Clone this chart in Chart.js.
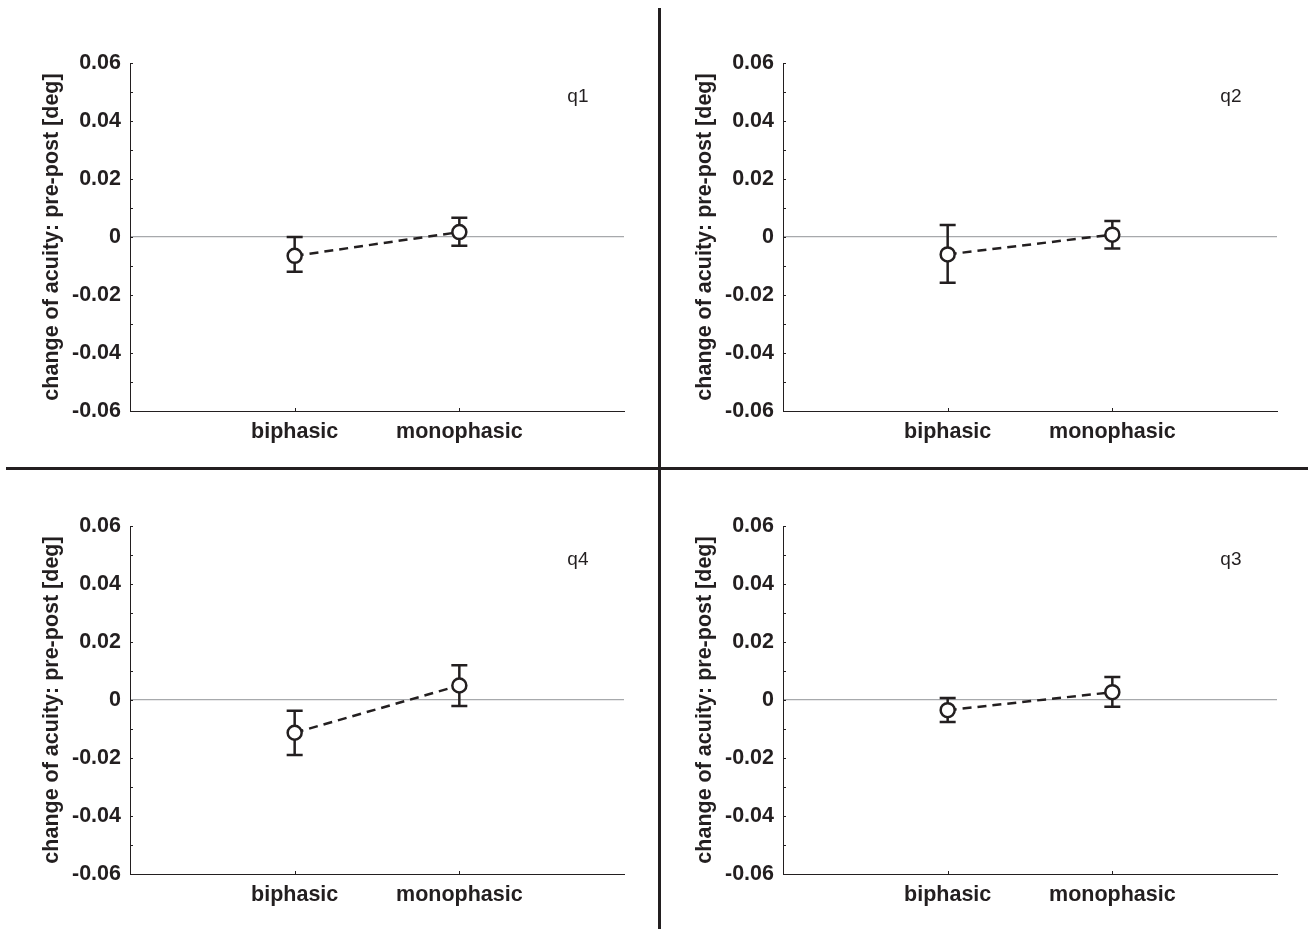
<!DOCTYPE html>
<html>
<head>
<meta charset="utf-8">
<script src="https://cdn.jsdelivr.net/npm/chart.js@4/dist/chart.umd.min.js"></script>
<style>
body { margin: 0; background: #fff; width: 1308px; height: 929px; position: relative; overflow: hidden; }
.panel { position: absolute; width: 654px; height: 466px; }
.rule { position: absolute; background: #231f20; z-index: 2; }
</style>
</head>
<body>
<div class="panel" style="left:0;top:0"><canvas id="q1"></canvas></div>
<div class="panel" style="left:653px;top:0"><canvas id="q2"></canvas></div>
<div class="panel" style="left:0;top:463px"><canvas id="q4"></canvas></div>
<div class="panel" style="left:653px;top:463px"><canvas id="q3"></canvas></div>
<div class="rule" style="left:658px;top:8px;width:3px;height:921px"></div>
<div class="rule" style="left:6px;top:467px;width:1302px;height:3px"></div>
<script>
// Data
const categories = ["biphasic", "monophasic"];
const yTicks = [-0.06, -0.04, -0.02, 0, 0.02, 0.04, 0.06];
const yMinorTicks = [-0.06, -0.05, -0.04, -0.03, -0.02, -0.01, 0, 0.01, 0.02, 0.03, 0.04, 0.05, 0.06];
const yTitle = "change of acuity: pre-post [deg]";

const meanQ1 = [-0.0065, 0.0017];
const lowQ1 = [-0.0120, -0.0030];
const highQ1 = [0.0000, 0.0066];

const meanQ2 = [-0.0060, 0.0008];
const lowQ2 = [-0.0158, -0.0040];
const highQ2 = [0.0041, 0.0055];

const meanQ4 = [-0.0113, 0.0050];
const lowQ4 = [-0.0190, -0.0021];
const highQ4 = [-0.0037, 0.0120];

const meanQ3 = [-0.0035, 0.0027];
const lowQ3 = [-0.0076, -0.0023];
const highQ3 = [0.0007, 0.0079];

const INK = "#231f20";
const FONT = "'Liberation Sans', Arial, sans-serif";
const SIZE = 21.5;

// error bars + inside ticks + panel tag
const decorations = {
    id: "decorations",
    beforeDatasetsDraw(chart, args, opts) {
        const ctx = chart.ctx;
        const xs = chart.scales.x;
        const ys = chart.scales.y;
        const area = chart.chartArea;
        ctx.save();
        ctx.strokeStyle = INK;
        ctx.lineWidth = 1;
        // small ticks pointing into the plot
        yMinorTicks.forEach(v => {
            const y = Math.round(ys.getPixelForValue(v)) + 0.5;
            ctx.beginPath();
            ctx.moveTo(area.left, y);
            ctx.lineTo(area.left + 3, y);
            ctx.stroke();
        });
        categories.forEach((c, i) => {
            const x = Math.round(xs.getPixelForValue(i + 1)) + 0.5;
            ctx.beginPath();
            ctx.moveTo(x, area.bottom);
            ctx.lineTo(x, area.bottom - 3);
            ctx.stroke();
        });
        // error bars
        ctx.lineWidth = 2.5;
        opts.lows.forEach((lo, i) => {
            const x = xs.getPixelForValue(i + 1);
            const yl = ys.getPixelForValue(lo);
            const yh = ys.getPixelForValue(opts.highs[i]);
            ctx.beginPath();
            ctx.moveTo(x, yl);
            ctx.lineTo(x, yh);
            ctx.moveTo(x - 8, yl);
            ctx.lineTo(x + 8, yl);
            ctx.moveTo(x - 8, yh);
            ctx.lineTo(x + 8, yh);
            ctx.stroke();
        });
        ctx.restore();
    },
    afterDraw(chart, args, opts) {
        const ctx = chart.ctx;
        ctx.save();
        ctx.fillStyle = INK;
        ctx.font = "19px " + FONT;
        ctx.textAlign = "center";
        ctx.textBaseline = "middle";
        ctx.fillText(opts.tag, chart.scales.x.getPixelForValue(2.72), chart.scales.y.getPixelForValue(0.0483));
        ctx.restore();
    }
};

function makePanel(id, means, lows, highs) {
    new Chart(document.getElementById(id), {
        type: "line",
        data: {
            datasets: [{
                data: means.map((m, i) => ({ x: i + 1, y: m })),
                borderColor: INK,
                borderWidth: 2.5,
                borderDash: [9, 6],
                pointRadius: 7,
                pointBorderWidth: 2.5,
                pointBorderColor: INK,
                pointBackgroundColor: "#fff"
            }]
        },
        options: {
            responsive: true,
            maintainAspectRatio: false,
            animation: false,
            events: [],
            layout: { padding: { left: 0, top: 63, right: 30, bottom: 0 } },
            plugins: {
                legend: { display: false },
                tooltip: { enabled: false },
                decorations: { tag: id, lows: lows, highs: highs }
            },
            scales: {
                x: {
                    type: "linear",
                    min: 0,
                    max: 3,
                    afterBuildTicks: s => { s.ticks = categories.map((c, i) => ({ value: i + 1 })); },
                    afterFit: s => { s.height = 55; },
                    grid: { display: false, drawTicks: false },
                    border: { display: true, color: INK, width: 1 },
                    ticks: {
                        padding: 8,
                        color: INK,
                        font: { family: FONT, size: SIZE, weight: "bold" },
                        callback: v => categories[v - 1]
                    }
                },
                y: {
                    min: -0.06,
                    max: 0.06,
                    afterBuildTicks: s => { s.ticks = yTicks.map(v => ({ value: v })); },
                    afterFit: s => { s.width = 130; },
                    grid: {
                        drawTicks: false,
                        color: c => (c.tick && c.tick.value === 0) ? "#a7a9ac" : "rgba(0,0,0,0)",
                        lineWidth: 1.2
                    },
                    border: { display: true, color: INK, width: 1 },
                    ticks: {
                        padding: 9,
                        color: INK,
                        font: { family: FONT, size: SIZE, weight: "bold" },
                        callback: v => v === 0 ? "0" : v.toFixed(2)
                    },
                    title: {
                        display: true,
                        text: yTitle,
                        color: INK,
                        font: { family: FONT, size: SIZE, weight: "bold", lineHeight: 1.2 },
                        padding: { top: 39, bottom: 0 }
                    }
                }
            }
        },
        plugins: [decorations]
    });
}

makePanel("q1", meanQ1, lowQ1, highQ1);
makePanel("q2", meanQ2, lowQ2, highQ2);
makePanel("q4", meanQ4, lowQ4, highQ4);
makePanel("q3", meanQ3, lowQ3, highQ3);
</script>
</body>
</html>
